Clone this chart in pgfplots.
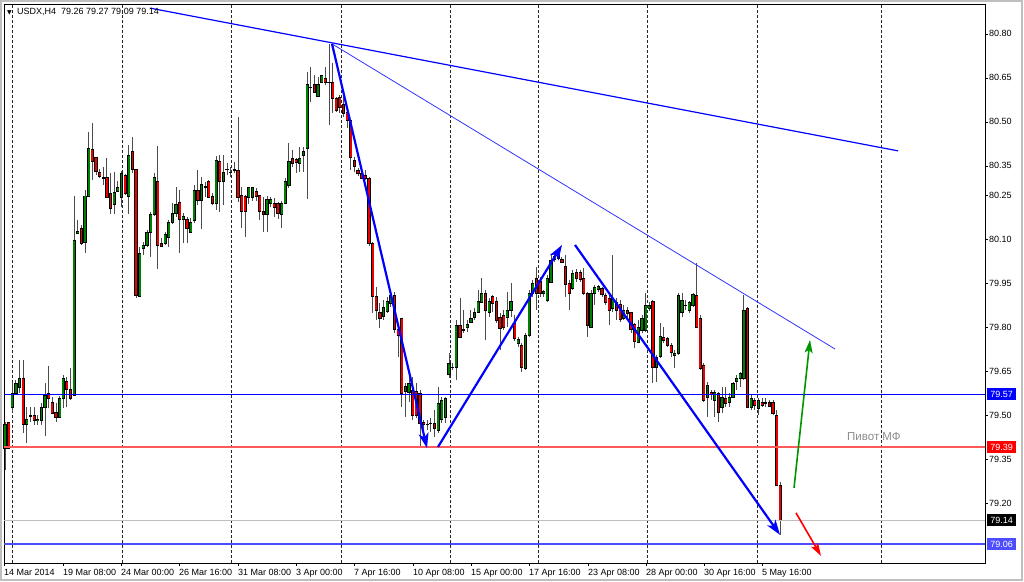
\documentclass[border=0pt]{standalone}
\usepackage{fontspec}
\setmainfont{Liberation Sans}
\newfontfamily\dejavu{DejaVu Sans}
\usepackage{pgfplots}
\usepackage{pgfplotstable}
\pgfplotsset{compat=1.18}
\usetikzlibrary{arrows.meta}
\definecolor{mtblue}{RGB}{0,0,255}
\definecolor{mtblue2}{RGB}{77,77,255}
\definecolor{bull}{RGB}{0,128,0}
\definecolor{bear}{RGB}{235,0,0}
\definecolor{pivred}{RGB}{255,90,90}
\definecolor{mtgreen}{RGB}{0,150,0}
\newcommand{\tlfont}{\fontsize{9}{10}\selectfont}
\pgfplotsset{candlepart/.style={only marks, mark=none, mark size=0pt, mark options={draw=none, fill=none}}}

\pgfplotstableread{
i o h l c
0 79.387 79.476 79.312 79.469
1 79.473 79.476 79.387 79.387
2 79.527 79.613 79.510 79.575
3 79.575 79.619 79.568 79.609
4 79.596 79.688 79.575 79.626
5 79.626 79.688 79.439 79.469
6 79.469 79.527 79.404 79.486
7 79.497 79.527 79.476 79.497
8 79.497 79.527 79.466 79.480
9 79.480 79.500 79.466 79.486
10 79.480 79.541 79.466 79.527
11 79.527 79.609 79.428 79.568
12 79.575 79.667 79.524 79.558
13 79.544 79.561 79.503 79.507
14 79.510 79.541 79.476 79.490
15 79.493 79.565 79.490 79.558
16 79.558 79.637 79.527 79.626
17 79.616 79.630 79.527 79.589
18 79.589 79.660 79.551 79.558
19 79.568 80.247 79.565 80.097
20 80.121 80.165 80.118 80.128
21 80.138 80.148 80.080 80.087
22 80.087 80.268 80.053 80.247
23 80.247 80.466 80.244 80.408
24 80.408 80.496 80.302 80.367
25 80.377 80.380 80.319 80.329
26 80.329 80.339 80.309 80.315
27 80.309 80.346 80.285 80.309
28 80.309 80.377 80.240 80.244
29 80.258 80.326 80.186 80.206
30 80.217 80.329 80.186 80.258
31 80.264 80.298 80.261 80.278
32 80.244 80.333 80.210 80.326
33 80.319 80.322 80.251 80.258
34 80.247 80.421 80.186 80.387
35 80.397 80.449 80.326 80.336
36 80.336 80.339 79.899 79.906
37 79.906 80.073 79.906 80.053
38 80.070 80.090 80.046 80.080
39 80.080 80.131 80.073 80.124
40 80.124 80.193 80.039 80.186
41 80.186 80.326 80.179 80.309
42 80.298 80.418 79.998 80.080
43 80.087 80.104 80.073 80.077
44 80.087 80.124 80.080 80.118
45 80.107 80.165 80.073 80.159
46 80.159 80.223 80.152 80.189
47 80.189 80.278 80.176 80.220
48 80.227 80.268 80.053 80.169
49 80.169 80.189 80.087 80.179
50 80.169 80.176 80.087 80.138
51 80.124 80.172 80.121 80.159
52 80.165 80.285 80.155 80.268
53 80.268 80.336 80.217 80.234
54 80.234 80.312 80.135 80.288
55 80.278 80.295 80.244 80.281
56 80.298 80.302 80.244 80.244
57 80.247 80.258 80.217 80.223
58 80.223 80.384 80.200 80.367
59 80.367 80.387 80.193 80.298
60 80.298 80.387 80.217 80.329
61 80.339 80.360 80.319 80.339
62 80.329 80.346 80.312 80.329
63 80.336 80.363 80.326 80.336
64 80.336 80.517 80.227 80.244
65 80.247 80.278 80.138 80.193
66 80.244 80.251 80.107 80.193
67 80.244 80.278 80.220 80.278
68 80.244 80.278 80.230 80.278
69 80.264 80.275 80.230 80.244
70 80.247 80.251 80.165 80.193
71 80.196 80.244 80.124 80.186
72 80.186 80.247 80.124 80.237
73 80.223 80.244 80.210 80.237
74 80.223 80.240 80.176 80.210
75 80.223 80.227 80.169 80.189
76 80.186 80.230 80.138 80.223
77 80.223 80.309 80.223 80.298
78 80.285 80.428 80.275 80.367
79 80.377 80.404 80.346 80.360
80 80.370 80.377 80.326 80.360
81 80.360 80.414 80.329 80.377
82 80.384 80.414 80.329 80.401
83 80.408 80.670 80.237 80.629
84 80.619 80.687 80.568 80.619
85 80.629 80.660 80.599 80.602
86 80.588 80.653 80.585 80.629
87 80.636 80.660 80.633 80.657
88 80.650 80.687 80.626 80.633
89 80.636 80.766 80.490 80.636
90 80.636 80.701 80.530 80.582
91 80.582 80.585 80.534 80.541
92 80.582 80.592 80.530 80.551
93 80.558 80.585 80.517 80.530
94 80.534 80.548 80.479 80.507
95 80.503 80.507 80.336 80.377
96 80.370 80.380 80.329 80.350
97 80.336 80.343 80.315 80.326
98 80.326 80.329 80.305 80.309
99 80.319 80.336 80.302 80.309
100 80.309 80.312 80.077 80.087
101 80.087 80.090 79.848 79.906
102 79.906 79.937 79.824 79.858
103 79.851 79.882 79.797 79.828
104 79.838 79.892 79.824 79.869
105 79.855 79.903 79.848 79.889
106 79.882 79.927 79.869 79.910
107 79.906 79.920 79.780 79.790
108 79.793 79.800 79.698 79.773
109 79.828 79.831 79.527 79.575
110 79.579 79.609 79.493 79.596
111 79.579 79.633 79.544 79.609
112 79.585 79.630 79.483 79.497
113 79.579 79.609 79.490 79.497
114 79.575 79.585 79.387 79.473
115 79.476 79.483 79.439 79.466
116 79.469 79.483 79.449 79.469
117 79.473 79.490 79.442 79.473
118 79.473 79.517 79.425 79.456
119 79.449 79.596 79.439 79.541
120 79.483 79.561 79.473 79.551
121 79.493 79.561 79.473 79.558
122 79.637 79.712 79.626 79.677
123 79.664 79.677 79.654 79.664
124 79.664 79.824 79.619 79.807
125 79.807 79.899 79.763 79.766
126 79.790 79.858 79.780 79.790
127 79.797 79.824 79.783 79.807
128 79.817 79.858 79.814 79.831
129 79.834 79.865 79.824 79.851
130 79.851 79.927 79.848 79.886
131 79.886 79.968 79.882 79.916
132 79.916 79.927 79.756 79.858
133 79.851 79.899 79.834 79.889
134 79.903 79.910 79.851 79.882
135 79.889 79.903 79.814 79.824
136 79.834 79.851 79.722 79.797
137 79.838 79.858 79.790 79.800
138 79.834 79.920 79.800 79.858
139 79.858 79.950 79.834 79.889
140 79.814 79.841 79.752 79.763
141 79.746 79.766 79.732 79.759
142 79.739 79.746 79.647 79.664
143 79.660 79.780 79.654 79.773
144 79.773 79.927 79.766 79.916
145 79.916 79.961 79.903 79.950
146 79.968 80.005 79.858 79.916
147 79.954 79.971 79.903 79.916
148 79.916 79.927 79.903 79.920
149 79.892 79.978 79.886 79.968
150 79.954 80.046 79.950 80.029
151 80.029 80.053 80.022 80.039
152 80.036 80.053 80.029 80.046
153 80.032 80.039 80.019 80.022
154 80.008 80.046 79.903 79.944
155 79.950 79.961 79.858 79.916
156 79.933 79.995 79.927 79.985
157 79.988 79.998 79.954 79.968
158 79.985 79.995 79.954 79.961
159 79.968 80.002 79.910 79.916
160 79.916 79.920 79.766 79.807
161 79.800 79.927 79.797 79.916
162 79.916 79.944 79.875 79.937
163 79.927 79.944 79.920 79.937
164 79.933 79.937 79.903 79.910
165 79.910 79.916 79.875 79.886
166 79.899 79.910 79.807 79.858
167 79.865 80.046 79.851 79.899
168 79.886 79.899 79.824 79.858
169 79.875 79.892 79.817 79.824
170 79.831 79.875 79.824 79.858
171 79.858 79.869 79.824 79.845
172 79.848 79.851 79.780 79.790
173 79.807 79.814 79.729 79.749
174 79.749 79.824 79.746 79.800
175 79.790 79.841 79.780 79.831
176 79.790 79.916 79.783 79.875
177 79.865 79.886 79.858 79.875
178 79.889 79.892 79.609 79.664
179 79.664 79.705 79.613 79.698
180 79.698 79.814 79.695 79.766
181 79.766 79.800 79.746 79.756
182 79.763 79.766 79.732 79.739
183 79.739 79.746 79.698 79.715
184 79.705 79.722 79.660 79.712
185 79.712 79.916 79.705 79.910
186 79.851 79.916 79.834 79.892
187 79.875 79.892 79.858 79.875
188 79.858 79.892 79.851 79.886
189 79.875 79.916 79.869 79.910
190 79.910 80.019 79.797 79.800
191 79.831 79.841 79.654 79.660
192 79.671 79.677 79.544 79.551
193 79.561 79.613 79.493 79.602
194 79.575 79.585 79.551 79.568
195 79.551 79.585 79.493 79.579
196 79.575 79.579 79.476 79.510
197 79.527 79.596 79.507 79.561
198 79.558 79.596 79.527 79.541
199 79.544 79.575 79.527 79.561
200 79.561 79.613 79.558 79.609
201 79.613 79.637 79.585 79.626
202 79.626 79.647 79.596 79.643
203 79.626 79.910 79.619 79.858
204 79.865 79.869 79.524 79.527
205 79.527 79.568 79.517 79.558
206 79.551 79.558 79.517 79.534
207 79.524 79.558 79.500 79.551
208 79.544 79.558 79.527 79.534
209 79.541 79.558 79.527 79.541
210 79.544 79.551 79.527 79.531
211 79.544 79.551 79.500 79.507
212 79.500 79.517 79.258 79.261
213 79.260 79.270 79.090 79.140
}\candles

\begin{document}
\begin{tikzpicture}[x=1pt,y=1pt]
\path[use as bounding box, fill=white] (0,0) rectangle (1024,581);
\draw[black!25, line width=2pt] (1,1) rectangle (1022,580);
\begin{axis}[
  at={(4pt,18pt)}, anchor=south west,
  scale only axis, width=981pt, height=559pt,
  xmin=4, xmax=985, ymin=78.995, ymax=80.902,
  clip=false,
  axis line style={draw=black, line width=0.8pt},
  xtick={4,63,121,179,238,296,354,413,471,529,588,646,704,762},
  xticklabels={14 Mar 2014,19 Mar 08:00,24 Mar 00:00,26 Mar 16:00,31 Mar 08:00,3 Apr 00:00,7 Apr 16:00,10 Apr 08:00,15 Apr 00:00,17 Apr 16:00,23 Apr 08:00,28 Apr 00:00,30 Apr 16:00,5 May 16:00},
  xtick pos=bottom,
  ytick={80.80,80.65,80.50,80.35,80.25,80.10,79.95,79.80,79.65,79.50,79.35,79.20},
  yticklabels={80.80,80.65,80.50,80.35,80.25,80.10,79.95,79.80,79.65,79.50,79.35,79.20},
  ytick pos=right, yticklabel pos=right,
  tick align=outside, major tick length=3pt,
  tick style={black, line width=0.6pt},
  xticklabel style={anchor=north west, inner sep=0pt, yshift=-3pt, font=\tlfont},
  yticklabel style={anchor=west, inner sep=0pt, xshift=1pt, font=\tlfont},
]
% vertical dashed grid
\pgfplotsinvokeforeach{12,122,231,341,450,538,647,757,881}{
  \draw[black!85, line width=0.8pt, dash pattern=on 3pt off 2pt] (axis cs:#1,78.995) -- (axis cs:#1,80.902);
}
% wicks
\addplot[candlepart, error bars/.cd, y dir=both, y explicit, error mark=none,
  error bar style={line width=0.9pt, draw=black!70}]
  table[x expr=5+3.64*\thisrow{i}, y expr=(\thisrow{h}+\thisrow{l})/2, y error expr=(\thisrow{h}-\thisrow{l})/2] {\candles};
% body outline
\addplot[candlepart, error bars/.cd, y dir=both, y explicit, error mark=none,
  error bar style={line width=3.2pt, draw=black}]
  table[x expr=5+3.64*\thisrow{i}, y expr=(\thisrow{o}+\thisrow{c})/2, y error expr={abs(\thisrow{o}-\thisrow{c})/2+0.0017}] {\candles};
% bull fill
\addplot[candlepart, error bars/.cd, y dir=both, y explicit, error mark=none,
  error bar style={line width=1.8pt, draw=bull}]
  table[x expr=5+3.64*\thisrow{i}, y expr=(\thisrow{o}+\thisrow{c})/2, y error expr={max(\thisrow{c}-\thisrow{o}-0.0034,0)/2}] {\candles};
% bear fill
\addplot[candlepart, error bars/.cd, y dir=both, y explicit, error mark=none,
  error bar style={line width=1.8pt, draw=bear}]
  table[x expr=5+3.64*\thisrow{i}, y expr=(\thisrow{o}+\thisrow{c})/2, y error expr={max(\thisrow{o}-\thisrow{c}-0.0034,0)/2}] {\candles};

% horizontal levels
\addplot[draw=black!25, line width=0.8pt] coordinates {(4,79.14) (985,79.14)};
\addplot[draw=mtblue, line width=1pt] coordinates {(4,79.57) (985,79.57)};
\addplot[draw=pivred, line width=1.5pt] coordinates {(4,79.39) (985,79.39)};
\addplot[draw=mtblue2, line width=2pt] coordinates {(4,79.06) (985,79.06)};

% trend lines
\addplot[draw=mtblue, line width=1.2pt] coordinates {(150,80.888) (898,80.401)};
\addplot[draw=mtblue!80, line width=0.8pt] coordinates {(332,80.766) (835,79.725)};
% arrows
\addplot[draw=mtblue, line width=2.2pt, -{Stealth[length=15pt,width=10pt,inset=4pt]}] coordinates {(332,80.766) (427,79.387)};
\addplot[draw=mtblue, line width=2.2pt, -{Stealth[length=15pt,width=10pt,inset=4pt]}] coordinates {(438,79.391) (562,80.080)};
\addplot[draw=mtblue, line width=2.2pt, -{Stealth[length=15pt,width=10pt,inset=4pt]}] coordinates {(575,80.080) (780,79.091)};
\addplot[draw=mtgreen, line width=1.6pt, -{Stealth[length=13pt,width=8pt,inset=3pt]}] coordinates {(794,79.251) (810,79.756)};
\addplot[draw=red, line width=1.6pt, -{Stealth[length=13pt,width=8pt,inset=3pt]}] coordinates {(796,79.166) (821,79.019)};

% texts
\node[anchor=west, text=black!45, font=\fontsize{11.5}{12}\selectfont, inner sep=0pt] at (axis cs:847,79.425) {Пивот МФ};
\node[anchor=west, font=\tlfont, inner sep=0pt] at (axis cs:17,80.874) {USDX,H4\ \ 79.26 79.27 79.09 79.14};
\node[anchor=west, font=\dejavu\fontsize{6}{6}\selectfont, inner sep=0pt] at (axis cs:7,80.872) {▼};

% price tags
\node[anchor=west, fill=mtblue, text=white, font=\tlfont, inner sep=1.5pt, minimum height=12pt, minimum width=29pt] at (axis cs:987,79.57) {79.57};
\node[anchor=west, fill=red, text=white, font=\tlfont, inner sep=1.5pt, minimum height=12pt, minimum width=29pt] at (axis cs:987,79.39) {79.39};
\node[anchor=west, fill=black, text=white, font=\tlfont, inner sep=1.5pt, minimum height=12pt, minimum width=29pt] at (axis cs:987,79.14) {79.14};
\node[anchor=west, fill=mtblue2, text=white, font=\tlfont, inner sep=1.5pt, minimum height=12pt, minimum width=29pt] at (axis cs:987,79.06) {79.06};
\end{axis}
\end{tikzpicture}
\end{document}
